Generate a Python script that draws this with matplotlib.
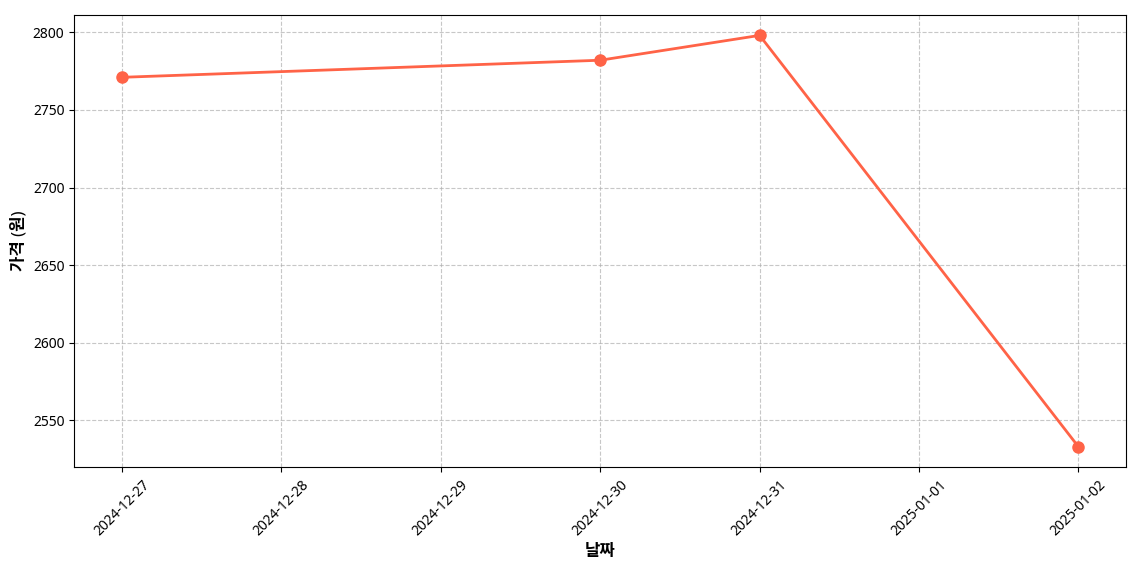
import matplotlib
matplotlib.use('Agg')
from matplotlib import pyplot as plt
import matplotlib.dates as mdates
import pandas as pd

plt.rcParams['font.family'] = ['Noto Sans', 'Noto Sans CJK KR', 'DejaVu Sans']
plt.rcParams['axes.unicode_minus'] = False

dates = ['2024-12-27', '2024-12-30', '2024-12-31', '2025-01-02']
prices = [2771, 2782, 2798, 2533]

xs = pd.to_datetime(dates)

fig, ax = plt.subplots(figsize=(11.4, 5.7), dpi=100)
ax.plot(xs, prices, color='tomato', marker='o', lw=2, markersize=8)
ax.xaxis.set_major_locator(mdates.DayLocator())
ax.xaxis.set_major_formatter(mdates.DateFormatter('%Y-%m-%d'))
plt.setp(ax.get_xticklabels(), rotation=45)
ax.set_xlabel('날짜', fontsize=12, fontweight='bold')
ax.set_ylabel('가격 (원)', fontsize=12, fontweight='bold')
ax.grid(True, linestyle='--', alpha=0.7)
fig.subplots_adjust(left=0.065, right=0.988, top=0.974, bottom=0.180)
fig.savefig('out.png', dpi=100)
